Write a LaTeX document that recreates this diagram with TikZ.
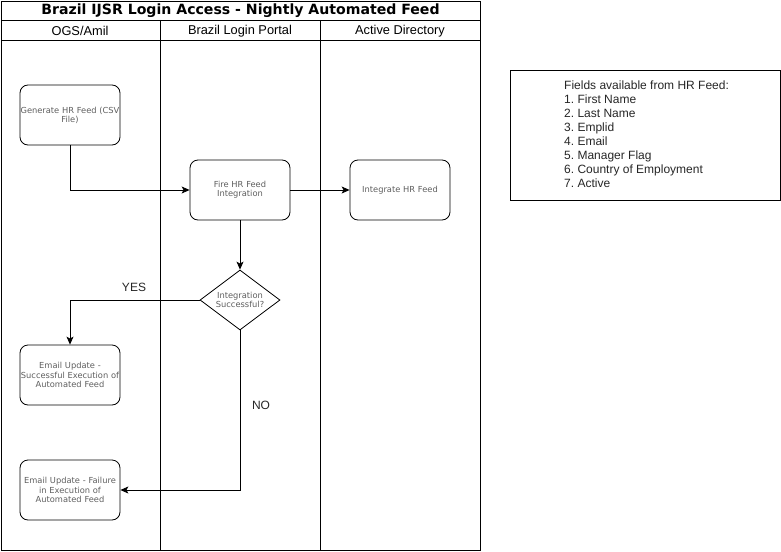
\documentclass[tikz,border=0pt]{standalone}
\usepackage{fontspec}
\setmainfont{Liberation Sans}
\newfontfamily\boxfont{DejaVu Sans}
\newfontfamily\titlefont{DejaVu Sans Bold}
\usetikzlibrary{arrows.meta,shapes.geometric}
\definecolor{boxtext}{HTML}{5E5E5E}
\frenchspacing
\tikzset{
  stepbox/.style={draw, rounded corners=8pt, minimum width=100pt, minimum height=60pt, inner sep=0pt,
     align=center, text width=100pt, font=\boxfont\fontsize{8.3}{9.2}\selectfont, text=boxtext, line width=0.8pt},
  decide/.style={draw, diamond, minimum width=80pt, minimum height=60pt, inner sep=0pt, aspect=1.333,
     align=center, font=\boxfont\fontsize{8.3}{9.2}\selectfont, text=boxtext, line width=0.8pt},
  flow/.style={-{Stealth[length=8pt,width=7pt,inset=2pt]}, line width=0.8pt},
  lane/.style={draw, line width=0.8pt},
  hdr/.style={font=\fontsize{12.8}{14}\selectfont},
  lbl/.style={font=\fontsize{12}{14}\selectfont, text=black!85}
}
\begin{document}
\begin{tikzpicture}[x=1pt,y=-1pt]
\useasboundingbox (0,0) rectangle (781,551);
% pool
\draw[lane] (1,1) rectangle (480,550);
\draw[lane] (1,20) -- (480,20);
\draw[lane] (1,40) -- (480,40);
\draw[lane] (160,20) -- (160,550);
\draw[lane] (320,20) -- (320,550);
\node[font=\titlefont\fontsize{14.1}{15}\selectfont] (title) at (240.5,11) {Brazil IJSR Login Access - Nightly Automated Feed};
\node[hdr] (h1) at (80,31) {OGS/Amil};
\node[hdr] (h2) at (240,31) {Brazil Login Portal};
\node[hdr] (h3) at (400,31) {Active Directory};
% nodes
\node[stepbox] (gen) at (70,115) {Generate HR Feed (CSV\\File)};
\node[stepbox] (fire) at (240,190) {Fire HR Feed\\Integration};
\node[stepbox] (integ) at (400,190) {Integrate HR Feed};
\node[decide] (dec) at (240,300) {Integration\\Successful?};
\node[stepbox] (succ) at (70,375) {Email Update -\\Successful Execution of\\Automated Feed};
\node[stepbox] (fail) at (70,490) {Email Update - Failure\\in Execution of\\Automated Feed};
% connectors
\draw[flow] (gen.south) |- (fire.west);
\draw[flow] (fire.east) -- (integ.west);
\draw[flow] (fire.south) -- (dec.north);
\draw[flow] (dec.west) -| (succ.north);
\draw[flow] (dec.south) |- (fail.east);
\node[lbl] (yes) at (134,287) {YES};
\node[lbl] (no) at (261,405) {NO};
% fields box
\draw[lane] (510,70) rectangle (780,200);
\node[draw=none, anchor=north west, align=left, inner sep=0pt, font=\fontsize{12}{14}\selectfont, text=black!85] (fields) at (564,81)
 {Fields available from HR Feed:\\1. First Name\\2. Last Name\\3. Emplid\\4. Email\\5. Manager Flag\\6. Country of Employment\\7. Active};
\end{tikzpicture}
\end{document}
